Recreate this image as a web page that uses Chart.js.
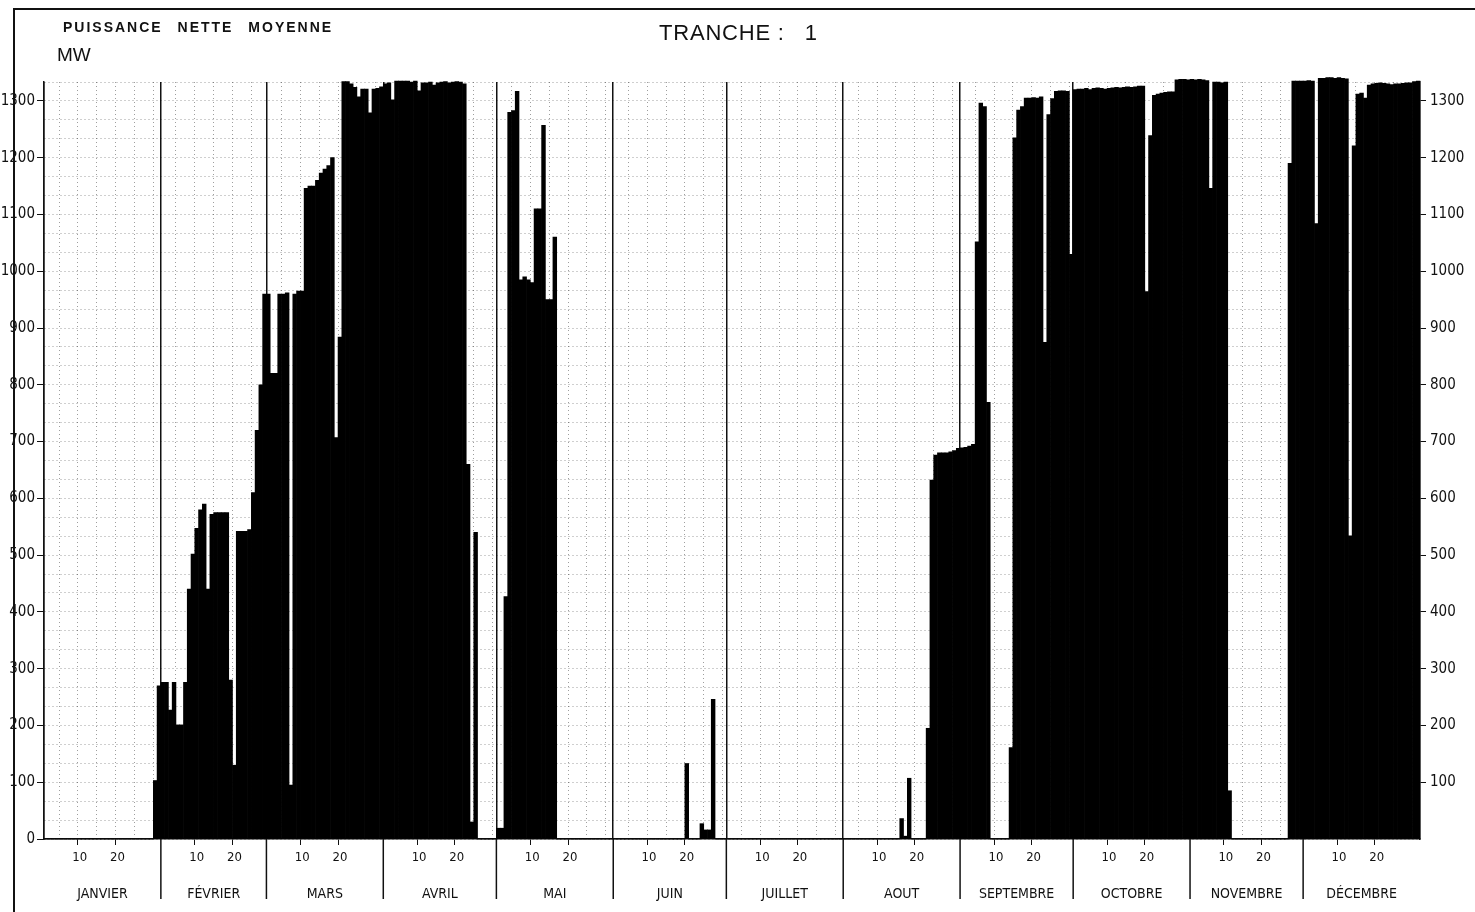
<!DOCTYPE html>
<html lang="fr">
<head>
<meta charset="utf-8">
<title>Puissance nette moyenne - Tranche 1</title>
<script src="https://cdn.jsdelivr.net/npm/chart.js@4.4.1/dist/chart.umd.min.js"></script>
<style>
  html, body { margin: 0; padding: 0; background: #fff; overflow: hidden; }
  #page { position: relative; width: 1475px; height: 912px; }
  #cadre { position: absolute; left: 13px; top: 8px; right: 0; bottom: 0;
           border-top: 2px solid #111; border-left: 2px solid #111; }
  .titre { position: absolute; color: #111; line-height: 1; white-space: nowrap;
           font-family: "Liberation Sans", Arial, sans-serif; }
  #titre1 { left: 63px; top: 20px; font-size: 14px; font-weight: bold; letter-spacing: 2px; word-spacing: 9px; }
  #unite { left: 57px; top: 45px; font-size: 19px; }
  #titre2 { left: 659px; top: 22px; font-size: 22px; letter-spacing: 0.8px; }
  #titre2 span { margin-left: 20px; }
  canvas { position: absolute; left: 0; top: 0; }
</style>
</head>
<body>
<div id="page">
  <div id="cadre"></div>
  <canvas id="puissanceChart" width="1475" height="912"></canvas>
  <div class="titre" id="titre1">PUISSANCE NETTE MOYENNE</div>
  <div class="titre" id="unite">MW</div>
  <div class="titre" id="titre2">TRANCHE :<span>1</span></div>
</div>
<script>
// Mois et nombre de jours
const moisNoms = ['JANVIER', 'FÉVRIER', 'MARS', 'AVRIL', 'MAI', 'JUIN', 'JUILLET', 'AOUT', 'SEPTEMBRE', 'OCTOBRE', 'NOVEMBRE', 'DÉCEMBRE'];
const moisJours = [31, 28, 31, 30, 31, 30, 31, 31, 30, 31, 30, 31];
// Repères de jours affichés sous l'axe
const reperesJours = [10, 20];
// Graduations de l'axe des puissances (MW)
const graduationsMW = [0, 100, 200, 300, 400, 500, 600, 700, 800, 900, 1000, 1100, 1200, 1300];

// Puissance nette moyenne journalière (MW)
const janvier = [0, 0, 0, 0, 0, 0, 0, 0, 0, 0, 0, 0, 0, 0, 0, 0, 0, 0, 0, 0, 0, 0, 0, 0, 0, 0, 0, 0, 0, 103, 270];
const fevrier = [276, 276, 227, 276, 201, 201, 276, 440, 502, 547, 580, 590, 440, 572, 575, 575, 575, 575, 280, 130, 542, 542, 542, 545, 610, 720, 800, 960];
const mars = [960, 820, 820, 960, 960, 962, 95, 960, 965, 965, 1146, 1150, 1150, 1160, 1173, 1180, 1186, 1200, 707, 884, 1334, 1334, 1330, 1324, 1307, 1321, 1321, 1279, 1321, 1322, 1325];
const avril = [1330, 1332, 1302, 1335, 1335, 1335, 1335, 1333, 1335, 1318, 1332, 1332, 1333, 1328, 1332, 1333, 1334, 1332, 1333, 1334, 1333, 1330, 660, 30, 540, 0, 0, 0, 0, 0];
const mai = [19, 19, 427, 1280, 1283, 1317, 985, 990, 985, 980, 1110, 1110, 1257, 950, 950, 1060, 0, 0, 0, 0, 0, 0, 0, 0, 0, 0, 0, 0, 0, 0, 0];
const juin = [0, 0, 0, 0, 0, 0, 0, 0, 0, 0, 0, 0, 0, 0, 0, 0, 0, 0, 0, 133, 0, 0, 0, 27, 16, 16, 246, 0, 0, 0];
const juillet = [0, 0, 0, 0, 0, 0, 0, 0, 0, 0, 0, 0, 0, 0, 0, 0, 0, 0, 0, 0, 0, 0, 0, 0, 0, 0, 0, 0, 0, 0, 0];
const aout = [0, 0, 0, 0, 0, 0, 0, 0, 0, 0, 0, 0, 0, 0, 0, 36, 5, 107, 0, 0, 0, 0, 195, 632, 676, 680, 680, 680, 682, 684, 688];
const septembre = [689, 690, 692, 695, 1052, 1296, 1290, 769, 0, 0, 0, 0, 0, 161, 1235, 1284, 1290, 1305, 1305, 1306, 1305, 1307, 875, 1276, 1304, 1317, 1318, 1318, 1317, 1030];
const octobre = [1320, 1321, 1321, 1322, 1320, 1322, 1323, 1322, 1321, 1322, 1323, 1324, 1323, 1324, 1325, 1324, 1325, 1326, 1326, 964, 1239, 1310, 1312, 1314, 1315, 1316, 1316, 1337, 1338, 1338, 1337];
const novembre = [1338, 1337, 1338, 1337, 1336, 1146, 1333, 1333, 1332, 1333, 85, 0, 0, 0, 0, 0, 0, 0, 0, 0, 0, 0, 0, 0, 0, 0, 1190, 1335, 1335, 1335];
const decembre = [1335, 1336, 1335, 1084, 1340, 1340, 1341, 1341, 1340, 1341, 1340, 1339, 534, 1221, 1312, 1314, 1305, 1328, 1330, 1331, 1332, 1331, 1330, 1329, 1330, 1330, 1331, 1332, 1332, 1334, 1335];

const puissance = [].concat(janvier, fevrier, mars, avril, mai, juin, juillet, aout, septembre, octobre, novembre, decembre);

// Jour du mois pour chaque barre, et indice du 1er jour de chaque mois
const jours = [];
const debutMois = [];
moisJours.forEach(function (n) {
  debutMois.push(jours.length);
  for (let j = 1; j <= n; j++) jours.push(j);
});

const policeAxe = '"Liberation Sans Narrow", "DejaVu Sans Condensed", "Arial Narrow", sans-serif';
const encre = '#111';
const pasGrille = 100 / 3;

// Vrai si la valeur tombe sur une graduation affichée
function estGraduation(v) {
  return graduationsMW.some(g => Math.abs(g - v) < 1e-6);
}

// Noms des mois et séparateurs sous l'axe
const moisPlugin = {
  id: 'mois',
  afterDraw(chart) {
    const { ctx, chartArea } = chart;
    const x = chart.scales.x;
    const demi = (x.getPixelForValue(1) - x.getPixelForValue(0)) / 2;
    ctx.save();
    ctx.strokeStyle = encre;
    ctx.lineWidth = 1.5;
    ctx.fillStyle = encre;
    ctx.font = '14px ' + policeAxe;
    ctx.textAlign = 'center';
    ctx.textBaseline = 'middle';
    debutMois.forEach(function (d, m) {
      const gauche = x.getPixelForValue(d) - demi;
      const droite = x.getPixelForValue(d + moisJours[m] - 1) + demi;
      if (m > 0) {
        ctx.beginPath();
        ctx.moveTo(gauche, chartArea.bottom);
        ctx.lineTo(gauche, chartArea.bottom + 60);
        ctx.stroke();
      }
      ctx.fillText(moisNoms[m], (gauche + droite) / 2, chartArea.bottom + 55);
    });
    ctx.restore();
  }
};

new Chart(document.getElementById('puissanceChart'), {
  type: 'bar',
  data: {
    labels: jours,
    datasets: [{
      label: 'Puissance nette moyenne (MW)',
      data: puissance,
      backgroundColor: '#000',
      borderWidth: 0,
      barPercentage: 1,
      categoryPercentage: 1,
      clip: false,
      yAxisID: 'y'
    }]
  },
  options: {
    responsive: false,
    animation: false,
    devicePixelRatio: 1,
    layout: { padding: { top: 82, left: 0, right: 0, bottom: 0 } },
    plugins: {
      legend: { display: false },
      tooltip: { enabled: false }
    },
    scales: {
      x: {
        type: 'category',
        offset: true,
        ticks: {
          autoSkip: false,
          maxRotation: 0,
          padding: 5,
          color: encre,
          font: { family: policeAxe, size: 13 },
          callback: function (v, i) {
            return reperesJours.includes(jours[i]) ? String(jours[i]) : '';
          }
        },
        grid: {
          offset: true,
          color: c => {
            const j = jours[c.index];
            if (j === 1) return encre;
            if (j % 5 === 0) return 'rgba(0,0,0,0.38)';
            return 'transparent';
          },
          lineWidth: c => (jours[c.index] === 1 ? 1.5 : 1),
          tickColor: c => (reperesJours.includes(jours[c.index]) ? encre : 'transparent'),
          tickLength: 6
        },
        border: { color: encre, width: 1.5, dash: c => (jours[c.index] === 1 ? [] : [1, 3]) },
        afterFit: s => { s.height = 73; }
      },
      y: {
        position: 'left',
        min: 0,
        max: pasGrille * 40,
        ticks: {
          stepSize: pasGrille,
          autoSkip: false,
          padding: 2,
          color: encre,
          font: { family: policeAxe, size: 15 },
          callback: v => (estGraduation(v) ? String(Math.round(v)) : '')
        },
        grid: {
          color: 'rgba(0,0,0,0.38)',
          tickColor: c => (estGraduation(c.tick.value) ? encre : 'transparent'),
          tickLength: 7
        },
        border: { color: encre, width: 1.5, dash: [1, 3] },
        afterFit: s => { s.width = 44; }
      },
      y2: {
        position: 'right',
        min: 0,
        max: pasGrille * 40,
        ticks: {
          stepSize: pasGrille,
          autoSkip: false,
          padding: 4,
          color: encre,
          font: { family: policeAxe, size: 15 },
          callback: v => (estGraduation(v) && v > 1 ? String(Math.round(v)) : '')
        },
        grid: {
          drawOnChartArea: false,
          tickColor: c => (estGraduation(c.tick.value) && c.tick.value > 1 ? encre : 'transparent'),
          tickLength: 6
        },
        border: { color: encre, width: 1.5 },
        afterFit: s => { s.width = 55; }
      }
    }
  },
  plugins: [moisPlugin]
});
</script>
</body>
</html>
